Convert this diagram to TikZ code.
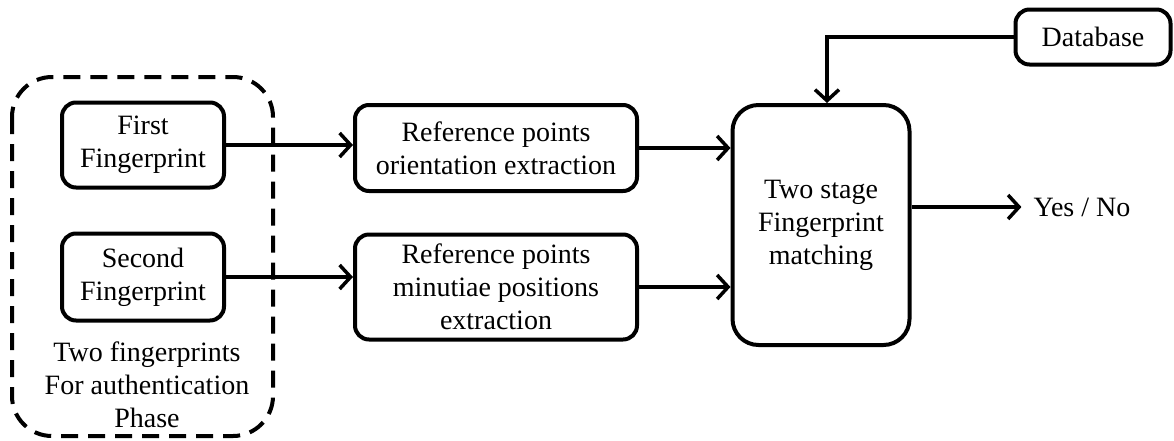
\documentclass[tikz,border=0pt]{standalone}
\usepackage{fontspec}
\newfontfamily\timesfont{Liberation Serif}
\usetikzlibrary{arrows.meta}

\begin{document}
\begin{tikzpicture}[x=1pt,y=-1pt,font=\timesfont\fontsize{28}{33}\selectfont,
    blk/.style={draw,line width=4pt,rounded corners=14pt,align=center,inner sep=0pt},
    conn/.style={line width=3.5pt,-{Straight Barb[length=11pt,width=24pt,line width=3.5pt]}}]
    \useasboundingbox (0,0) rectangle (1174,440);
    % gruppo tratteggiato delle due impronte
    \draw[line width=4pt,dash pattern=on 17pt off 10pt,rounded corners=40pt] (12,77) rectangle (273,436);
    \node[blk,minimum width=162,minimum height=85] (first) at (143,145) {First\\Fingerprint}; % prima impronta
    \node[blk,minimum width=162,minimum height=87] (second) at (143,277) {Second\\Fingerprint}; % seconda impronta
    \node[align=center] (phase) at (147,385) {Two fingerprints\\For authentication\\Phase}; % etichetta gruppo
    \node[blk,minimum width=282,minimum height=86] (orient) at (496,148) {Reference points\\orientation extraction};
    \node[blk,minimum width=282,minimum height=105] (minut) at (496,287) {Reference points\\minutiae positions\\extraction};
    \node[blk,rounded corners=26pt,minimum width=177,minimum height=240] (match) at (821,225) {Two stage\\Fingerprint\\matching};
    \node[blk,minimum width=155,minimum height=55] (db) at (1093,37) {Database}; % database
    \node[inner sep=12pt] (result) at (1082,207) {Yes / No}; % uscita

    \draw[conn] (first) -- (orient.west |- first);
    \draw[conn] (second) -- (minut.west |- second);
    \draw[conn] (orient) -- (match.west |- orient);
    \draw[conn] (minut) -- (match.west |- minut);
    \draw[conn] (db.west) -| ([xshift=6pt]match.north);
    \draw[conn] (match.east |- result) -- (result);
\end{tikzpicture}
\end{document}
